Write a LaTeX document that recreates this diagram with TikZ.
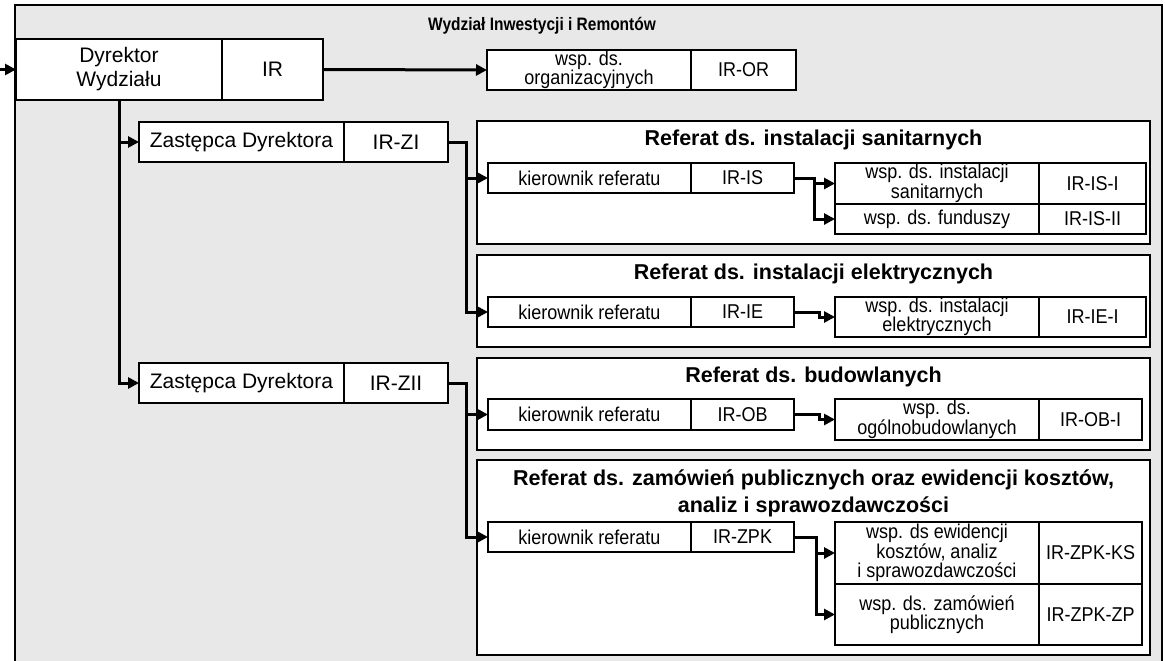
\documentclass[tikz,border=0pt]{standalone}
\usepackage{fontspec}
\setmainfont{Liberation Sans}
\newfontfamily\narrowsans[FakeStretch=0.9]{Liberation Sans}
\newfontfamily\narrowbold[FakeStretch=0.86]{Liberation Sans Bold}
\usetikzlibrary{positioning,arrows.meta}

\tikzset{
  cell/.style={draw, line width=1.5pt, fill=white, inner sep=0pt, outer sep=0pt, align=center, font=\narrowsans\fontsize{20}{19.5}\selectfont},
  bigcell/.style={cell, font=\fontsize{21}{24}\selectfont},
  referat/.style={draw, line width=2pt, fill=white},
  reftitle/.style={font=\bfseries\fontsize{21.5}{27}\selectfont, align=center},
  link/.style={line width=3pt, -{Triangle[length=11pt,width=11pt]}},
}

\begin{document}
\begin{tikzpicture}[x=1pt,y=-1pt]
\useasboundingbox (0,0) rectangle (1165,661);
\clip (0,0) rectangle (1165,661);

% frame of the whole department
\draw[line width=1.8pt, fill=black!9] (15,5) rectangle (1162,680);
\node[font=\narrowbold\fontsize{18}{20}\selectfont] (wydzial) at (542,26) {Wydział Inwestycji i Remontów};

% director and deputies
\node[bigcell, minimum width=206, minimum height=61, anchor=north west] (dyr) at (16,39) {Dyrektor\\Wydziału};
\node[bigcell, minimum width=101, minimum height=61, right=0pt of dyr] (dyrk) {IR};
\node[cell, minimum width=204, minimum height=40, anchor=north west] (org) at (487,50) {wsp. ds.\\organizacyjnych};
\node[cell, minimum width=105, minimum height=40, right=0pt of org] (orgk) {IR-OR};

\node[bigcell, minimum width=205, minimum height=40, anchor=north west] (zi) at (139,122) {Zastępca Dyrektora};
\node[bigcell, minimum width=104, minimum height=40, right=0pt of zi] (zik) {IR-ZI};
\node[bigcell, minimum width=205, minimum height=40, anchor=north west] (zii) at (139,363) {Zastępca Dyrektora};
\node[bigcell, minimum width=104, minimum height=40, right=0pt of zii] (ziik) {IR-ZII};

% referat frames
\draw[referat] (477,121) rectangle (1150,244);
\draw[referat] (477,255) rectangle (1150,347);
\draw[referat] (477,358) rectangle (1150,450);
\draw[referat] (477,460) rectangle (1150,655);
\node[reftitle] (tis) at (813.5,140) {Referat ds. instalacji sanitarnych};
\node[reftitle] (tie) at (813.5,274) {Referat ds. instalacji elektrycznych};
\node[reftitle] (tob) at (813.5,377) {Referat ds. budowlanych};
\node[reftitle] (tzpk) at (813.5,493.5) {Referat ds. zamówień publicznych oraz ewidencji kosztów,\\analiz i sprawozdawczości};

% instalacje sanitarne
\node[cell, minimum width=203, minimum height=30, anchor=north west] (kis) at (488,163) {kierownik referatu};
\node[cell, minimum width=103, minimum height=30, right=0pt of kis] (kisk) {IR-IS};
\node[cell, minimum width=204, minimum height=41, anchor=north west] (is1) at (835,163) {wsp. ds. instalacji\\sanitarnych};
\node[cell, minimum width=107, minimum height=41, right=0pt of is1] (is1k) {IR-IS-I};
\node[cell, minimum width=204, minimum height=30, below=0pt of is1] (is2) {wsp. ds. funduszy};
\node[cell, minimum width=107, minimum height=30, right=0pt of is2] (is2k) {IR-IS-II};

% instalacje elektryczne
\node[cell, minimum width=203, minimum height=30, anchor=north west] (kie) at (488,297) {kierownik referatu};
\node[cell, minimum width=103, minimum height=30, right=0pt of kie] (kiek) {IR-IE};
\node[cell, minimum width=204, minimum height=40, anchor=north west] (ie1) at (835,297) {wsp. ds. instalacji\\elektrycznych};
\node[cell, minimum width=107, minimum height=40, right=0pt of ie1] (ie1k) {IR-IE-I};

% budowlane
\node[cell, minimum width=203, minimum height=31, anchor=north west] (kob) at (488,399) {kierownik referatu};
\node[cell, minimum width=103, minimum height=31, right=0pt of kob] (kobk) {IR-OB};
\node[cell, minimum width=204, minimum height=41, anchor=north west] (ob1) at (835,399) {wsp. ds.\\ogólnobudowlanych};
\node[cell, minimum width=103, minimum height=41, right=0pt of ob1] (ob1k) {IR-OB-I};

% zamowienia publiczne
\node[cell, minimum width=203, minimum height=30, anchor=north west] (kzp) at (488,522) {kierownik referatu};
\node[cell, minimum width=103, minimum height=30, right=0pt of kzp] (kzpk) {IR-ZPK};
\node[cell, minimum width=204, minimum height=62, anchor=north west] (ks) at (835,522) {wsp. ds ewidencji\\kosztów, analiz\\i sprawozdawczości};
\node[cell, minimum width=103, minimum height=62, right=0pt of ks] (ksk) {IR-ZPK-KS};
\node[cell, minimum width=204, minimum height=61, below=0pt of ks] (zp) {wsp. ds. zamówień\\publicznych};
\node[cell, minimum width=103, minimum height=61, right=0pt of zp] (zpk) {IR-ZPK-ZP};

% connectors
\coordinate (wej) at (0,69.5);
\draw[link] (wej) -- (dyr.west);
\draw[link] (dyrk.east) -- (org.west);
\draw[link] (dyr.south) |- (zi.west);
\draw[link] (dyr.south) |- (zii.west);
\draw[link] (zik.east) -- ++(18,0) |- (kis.west);
\draw[link] (zik.east) -- ++(18,0) |- (kie.west);
\draw[link] (ziik.east) -- ++(18,0) |- (kob.west);
\draw[link] (ziik.east) -- ++(18,0) |- (kzp.west);
\draw[link] (kisk.east) -- ++(20,0) |- (is1.west);
\draw[link] (kisk.east) -- ++(20,0) |- (is2.west);
\draw[link] (kiek.east) -- ++(25,0) |- (ie1.west);
\draw[link] (kobk.east) -- ++(25,0) |- (ob1.west);
\draw[link] (kzpk.east) -- ++(22,0) |- (ks.west);
\draw[link] (kzpk.east) -- ++(22,0) |- (zp.west);
\end{tikzpicture}
\end{document}
